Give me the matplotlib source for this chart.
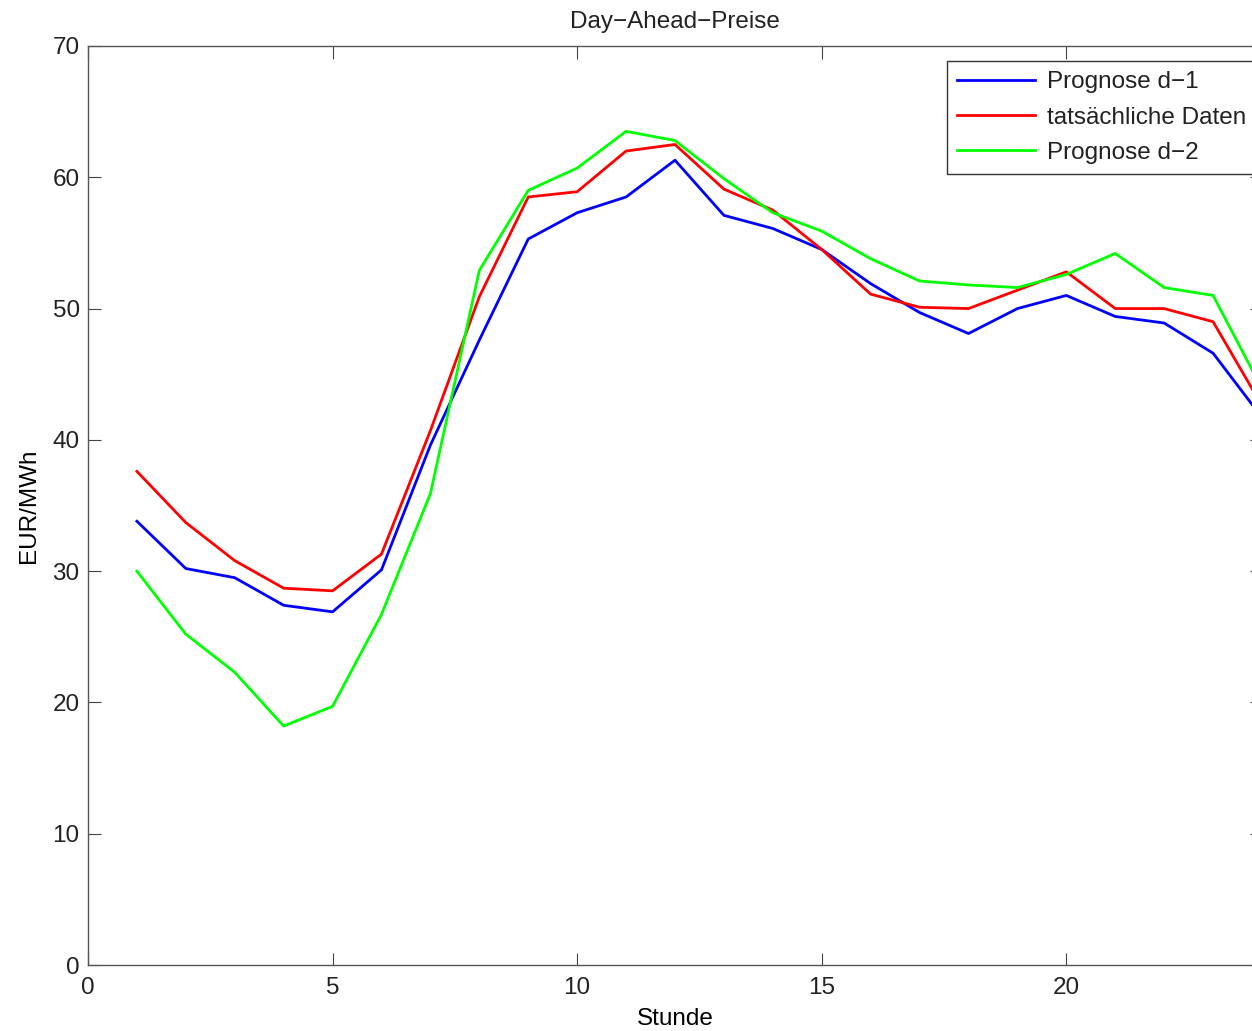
import numpy as np
import matplotlib
matplotlib.use("Agg")
from matplotlib import pyplot as plt

plt.rcParams['font.family'] = ['Liberation Sans', 'DejaVu Sans']
plt.rcParams['text.color'] = '#222222'

stunde = np.arange(1, 25)
prognose_d1 = [33.8, 30.2, 29.5, 27.4, 26.9, 30.1, 39.6, 47.6, 55.3, 57.3, 58.5, 61.3,
               57.1, 56.1, 54.5, 51.9, 49.7, 48.1, 50.0, 51.0, 49.4, 48.9, 46.6, 41.7]
tatsaechlich = [37.6, 33.7, 30.8, 28.7, 28.5, 31.3, 40.7, 50.9, 58.5, 58.9, 62.0, 62.5,
                59.1, 57.5, 54.5, 51.1, 50.1, 50.0, 51.4, 52.8, 50.0, 50.0, 49.0, 42.6]
prognose_d2 = [30.0, 25.2, 22.3, 18.2, 19.7, 26.7, 35.9, 52.9, 59.0, 60.7, 63.5, 62.8,
               59.9, 57.3, 55.9, 53.8, 52.1, 51.8, 51.6, 52.6, 54.2, 51.6, 51.0, 43.9]
xticks = [0, 5, 10, 15, 20]
yticks = [0, 10, 20, 30, 40, 50, 60, 70]

fig = plt.figure(figsize=(12.52, 10.31), dpi=100)
# right spine sits just past the picture's edge, as in the reference
ax = fig.add_axes([88/1252, 66/1031, 1174/1252, 919/1031])

ax.plot(stunde, prognose_d1, color='#0000ff', lw=2, label='Prognose d−1')
ax.plot(stunde, tatsaechlich, color='#ff0000', lw=2, label='tatsächliche Daten')
ax.plot(stunde, prognose_d2, color='#00ff00', lw=2, label='Prognose d−2')

ax.set_xlim(0, 24)
ax.set_ylim(0, 70)
ax.set_xticks(xticks)
ax.set_yticks(yticks)
ax.tick_params(direction='in', length=9, width=0.8, color='#444444',
               top=True, right=True, labelsize=17.5, labelcolor='#222222')
ax.tick_params(axis='x', pad=9)
ax.tick_params(axis='y', pad=6)
for s in ax.spines.values():
    s.set_color('#555555')
    s.set_linewidth(1)

ax.set_title('Day−Ahead−Preise', fontsize=17.5, pad=13)
ax.set_xlabel('Stunde', fontsize=17.5, labelpad=6)
ax.set_ylabel('EUR/MWh', fontsize=17.5, labelpad=9)

leg = ax.legend(loc='upper left', bbox_to_anchor=(947/1252, 1 - 61/1031),
                bbox_transform=fig.transFigure, fontsize=17.5, fancybox=False,
                framealpha=1, borderaxespad=0, handlelength=3.2, handletextpad=0.5,
                labelspacing=0.55, borderpad=0.42)
leg.get_frame().set_edgecolor('#333333')
leg.get_frame().set_linewidth(1)

fig.savefig('out.png', dpi=100)
